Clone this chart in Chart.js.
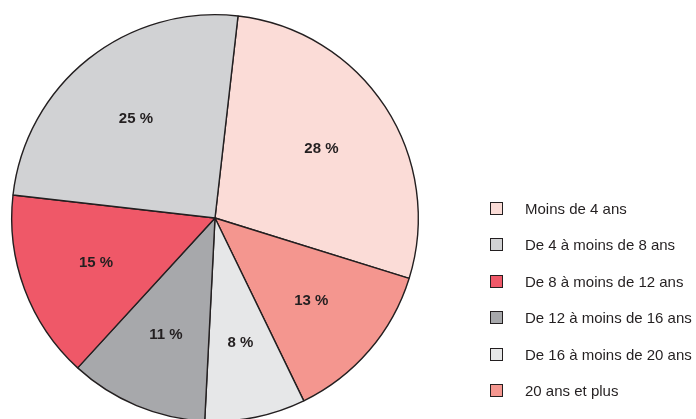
<!DOCTYPE html>
<html>
<head>
<meta charset="utf-8">
<script src="https://cdn.jsdelivr.net/npm/chart.js@4"></script>
<style>
  html, body { margin: 0; padding: 0; background: #ffffff; overflow: hidden; }
  #wrap { position: relative; width: 696px; height: 419px; overflow: hidden; }
  #c { position: absolute; left: 0; top: 0; }
  .leg { position: absolute; left: 490px; height: 14px; font-family: "Liberation Sans", Arial, sans-serif; font-size: 15px; color: #231f20; white-space: nowrap; }
  .leg .box { position: absolute; left: 0; top: 0; width: 11px; height: 11px; border: 1.5px solid #231f20; }
  .leg .txt { position: absolute; left: 35px; top: -2px; line-height: 18px; }
</style>
</head>
<body>
<div id="wrap">
  <canvas id="c" width="696" height="432"></canvas>
</div>
<script>
// Data (legend order)
const categories = [
  "Moins de 4 ans",
  "De 4 à moins de 8 ans",
  "De 8 à moins de 12 ans",
  "De 12 à moins de 16 ans",
  "De 16 à moins de 20 ans",
  "20 ans et plus"
];
const shares = [28, 25, 15, 11, 8, 13];
const colors = ["#fbdcd7", "#d1d2d4", "#ef5868", "#a7a8ab", "#e6e7e8", "#f4968f"];

// Drawing order clockwise from the top: first category, then the rest in reverse
const drawOrder = [0, 5, 4, 3, 2, 1];
const chartLabels = drawOrder.map(i => categories[i]);
const chartValues = drawOrder.map(i => shares[i]);
const chartColors = drawOrder.map(i => colors[i]);

const sliceLabels = {
  id: 'sliceLabels',
  afterDatasetsDraw(chart) {
    const ctx = chart.ctx;
    const meta = chart.getDatasetMeta(0);
    ctx.save();
    ctx.font = 'bold 15px "Liberation Sans", Arial, sans-serif';
    ctx.fillStyle = '#231f20';
    ctx.textAlign = 'center';
    ctx.textBaseline = 'middle';
    meta.data.forEach((arc, i) => {
      const p = arc.getProps(['x', 'y', 'startAngle', 'endAngle', 'outerRadius'], true);
      const a = (p.startAngle + p.endAngle) / 2;
      const r = p.outerRadius * 0.625;
      ctx.fillText(chartValues[i] + ' %', p.x + Math.cos(a) * r, p.y + Math.sin(a) * r);
    });
    ctx.restore();
  }
};

new Chart(document.getElementById('c'), {
  type: 'pie',
  data: {
    labels: chartLabels,
    datasets: [{
      data: chartValues,
      backgroundColor: chartColors,
      borderColor: '#231f20',
      borderWidth: 1.4
    }]
  },
  options: {
    responsive: false,
    animation: false,
    rotation: 6.5,
    layout: { padding: { left: 11, top: 14, right: 277, bottom: 10 } },
    plugins: {
      legend: { display: false },
      tooltip: { enabled: false }
    }
  },
  plugins: [sliceLabels]
});

// Legend (HTML, legend order)
const wrap = document.getElementById('wrap');
categories.forEach((name, i) => {
  const row = document.createElement('div');
  row.className = 'leg';
  row.style.top = (202 + i * 36.4) + 'px';
  const box = document.createElement('div');
  box.className = 'box';
  box.style.background = colors[i];
  const txt = document.createElement('div');
  txt.className = 'txt';
  txt.textContent = name;
  row.appendChild(box);
  row.appendChild(txt);
  wrap.appendChild(row);
});
</script>
</body>
</html>
